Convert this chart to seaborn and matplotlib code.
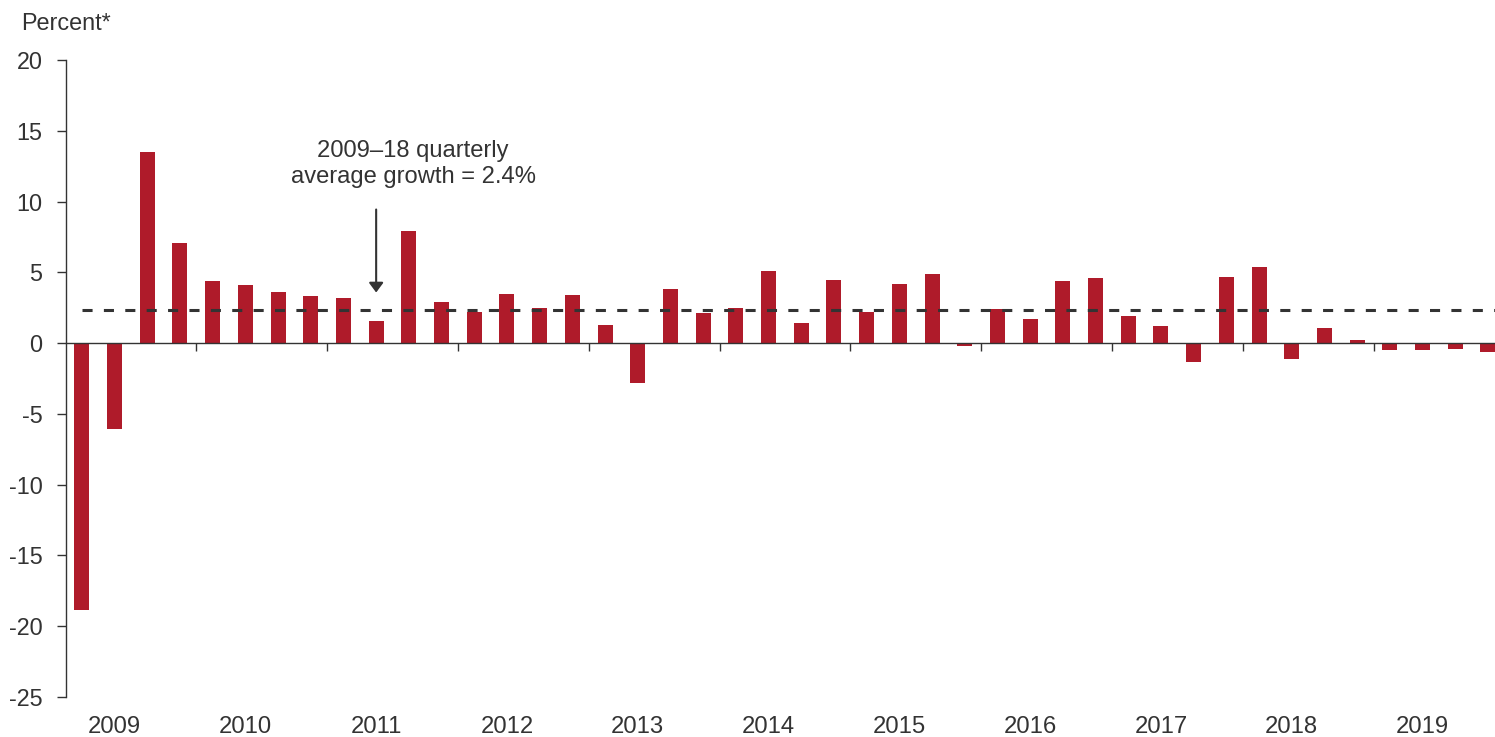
import matplotlib
matplotlib.use("Agg")
import matplotlib.pyplot as plt
import seaborn as sns
import pandas as pd

# ---- data ----
years = ["2009", "2010", "2011", "2012", "2013", "2014", "2015", "2016", "2017", "2018", "2019"]
quarter_labels = [f"{y}Q{q}" for y in years for q in (1, 2, 3, 4)]
growth = [
    -18.9, -6.1, 13.5, 7.1,    # 2009
    4.4, 4.1, 3.6, 3.3,        # 2010
    3.2, 1.6, 7.9, 2.9,        # 2011
    2.2, 3.5, 2.5, 3.4,        # 2012
    1.3, -2.8, 3.8, 2.1,       # 2013
    2.5, 5.1, 1.45, 4.5,       # 2014
    2.2, 4.2, 4.9, -0.2,       # 2015
    2.4, 1.7, 4.4, 4.6,        # 2016
    1.9, 1.2, -1.3, 4.7,       # 2017
    5.35, -1.1, 1.1, 0.25,     # 2018
    -0.5, -0.5, -0.4, -0.6,    # 2019
]
avg_growth = 2.35
y_ticks = [-25, -20, -15, -10, -5, 0, 5, 10, 15, 20]
annotation_text = "2009\u201318 quarterly\naverage growth = 2.4%"
arrow_quarter = "2011Q2"

df = pd.DataFrame({"quarter": quarter_labels, "growth": growth})

# ---- style ----
sns.set_theme(style="white")
plt.rcParams["font.family"] = ["Liberation Sans", "DejaVu Sans"]
plt.rcParams["axes.unicode_minus"] = False

BAR = "#AF1B2A"
INK = "#333333"
FS = 16.8

fig = plt.figure(figsize=(14.95, 7.37), dpi=100)
ax = fig.add_axes([65.5 / 1495, 1 - 696.7 / 737, 1 - 65.5 / 1495, (696.7 - 60.3) / 737])

sns.barplot(data=df, x="quarter", y="growth", color=BAR, saturation=1,
            width=0.46, linewidth=0, ax=ax)

n = len(quarter_labels)
ax.set_xlim(-0.5, -0.5 + (1495 - 65.5) / 32.7)
ax.set_ylim(-25, 20)

# average dashed line
ax.plot([0, n + 1], [avg_growth, avg_growth], color=INK, lw=2.2,
        linestyle=(0, (3.3, 3.7)), zorder=3)

# spines
for s in ["top", "right"]:
    ax.spines[s].set_visible(False)
ax.spines["left"].set_color(INK)
ax.spines["left"].set_linewidth(1.0)
ax.spines["bottom"].set_position(("data", 0))
ax.spines["bottom"].set_color(INK)
ax.spines["bottom"].set_linewidth(1.0)
ax.spines["bottom"].set_zorder(4)

# y axis
ax.set_yticks(y_ticks)
ax.set_yticklabels([str(v) for v in y_ticks])
ax.tick_params(axis="y", direction="out", length=6.5, width=1.0, color=INK,
               labelcolor=INK, labelsize=FS, pad=10, left=True)
ax.set_ylabel("")
ax.set_xlabel("")

# x axis: year boundary ticks on zero line
boundaries = [4 * i - 0.5 for i in range(1, len(years))]
ax.set_xticks(boundaries)
ax.set_xticklabels([])
ax.tick_params(axis="x", direction="out", length=5.8, width=1.0, color=INK, bottom=True)

# year labels at bottom
sec = ax.secondary_xaxis("bottom")
sec.set_xticks([4 * i + 1 for i in range(len(years))])
sec.set_xticklabels(years)
sec.tick_params(length=0, pad=14, labelsize=17.2, labelcolor=INK)
sec.spines["bottom"].set_visible(False)

# annotation
ax_idx = quarter_labels.index(arrow_quarter)
ax.annotate("", xy=(ax_idx, 3.58), xytext=(ax_idx, 9.45),
            arrowprops=dict(arrowstyle="-|>,head_length=0.58,head_width=0.43",
                            color=INK, lw=1.5, shrinkA=0, shrinkB=0, mutation_scale=10))
ax.text(10.13, 12.68, annotation_text, ha="center", va="center",
        fontsize=17.1, color=INK, linespacing=1.22)

fig.text(21 / 1495, 1 - 30 / 737, "Percent*", ha="left", va="baseline",
         fontsize=FS, color=INK)

fig.savefig("out.png", dpi=100)
